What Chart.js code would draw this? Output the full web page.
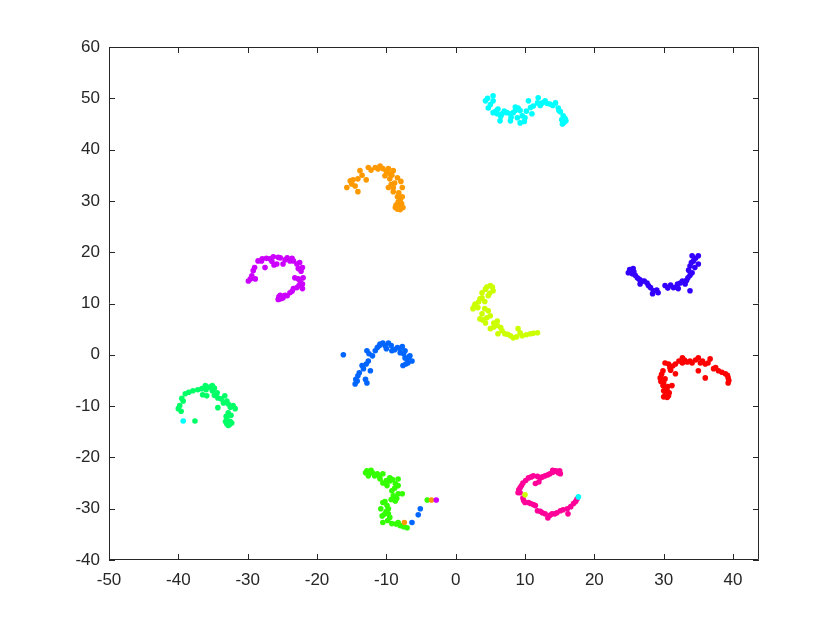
<!DOCTYPE html>
<html>
<head>
<meta charset="utf-8">
<script src="https://cdn.jsdelivr.net/npm/chart.js@4.4.1/dist/chart.umd.min.js"></script>
<style>
  html, body { margin: 0; padding: 0; background: #fff; }
  canvas { display: block; }
</style>
</head>
<body>
<canvas id="scatterChart" width="840" height="630"></canvas>
<script>
// axis ticks
const xTicks = [-50, -40, -30, -20, -10, 0, 10, 20, 30, 40];
const yTicks = [-40, -30, -20, -10, 0, 10, 20, 30, 40, 50, 60];

// cluster points [x, y]
const redPts = [
  [30.2,-1.6],[29.9,-3.1],[29.5,-4.5],[30.2,-4.7],[29.9,-6.0],[30.5,-7.0],[30.7,-8.0],[30.2,-8.0],
  [31.2,-6.0],[31.7,-3.7],[30.9,-2.5],[31.7,-1.8],[32.7,-0.6],[32.7,-1.6],[33.4,-1.4],[34.1,-1.6],
  [35.0,-0.6],[35.3,-1.6],[36.0,-1.8],[36.7,-0.8],[35.0,-3.1],[36.0,-4.5],[37.2,-2.7],[37.9,-3.1],
  [38.9,-3.7],[39.3,-4.5],[39.3,-5.5],[30.7,-1.8],[30.3,-7.3],[30.6,-7.8],[30.0,-7.0],[30.4,-6.5],
  [29.7,-3.8],[29.6,-5.2],[30.0,-5.5],[30.6,-6.2],[30.8,-7.4],[31.0,-3.0],[31.3,-2.2],[32.2,-1.2],
  [33.0,-1.0],[33.8,-1.2],[34.6,-1.0],[35.6,-1.2],[36.4,-1.6],[37.5,-2.5],[38.4,-3.4],[39.2,-4.0],
  [39.4,-5.0],[30.5,-8.3],[30.0,-8.2]
];
const orangePts = [
  [-15.7,32.6],[-15.2,33.9],[-14.8,34.1],[-14.1,34.3],[-13.8,35.9],[-14.5,32.9],[-14.1,31.8],[-12.9,34.1],
  [-12.6,36.5],[-11.6,36.5],[-10.9,36.8],[-10.5,36.3],[-9.7,36.3],[-9.0,35.9],[-9.5,35.3],[-9.5,34.3],
  [-8.4,34.5],[-9.7,32.6],[-9.0,32.6],[-9.0,31.8],[-7.7,32.6],[-8.4,30.8],[-7.7,30.8],[-8.3,29.8],
  [-8.3,28.8],[-8.0,28.3],[-8.7,28.7],[-7.6,28.7],[-8.6,29.2],[-7.9,29.0],[-10.2,34.9],
  [-15.0,33.3],[-13.5,35.0],[-12.2,36.0],[-11.2,36.2],[-10.0,35.8],[-9.2,35.0],[-8.8,33.5],[-9.3,33.2],
  [-8.2,31.6],[-8.0,30.2],[-7.8,29.5],[-8.4,28.4],[-8.0,28.9],[-7.9,33.8]
];
const limePts = [
  [5.0,13.5],[5.4,12.5],[4.7,11.5],[3.8,12.1],[3.5,10.9],[2.8,9.9],[2.5,9.0],[3.2,9.2],
  [3.8,8.0],[3.5,7.0],[4.7,8.6],[5.0,7.6],[4.3,6.2],[6.0,6.6],[6.0,5.7],[5.0,5.1],
  [6.7,4.7],[6.1,4.1],[7.1,4.1],[7.9,3.7],[8.3,3.3],[9.0,5.1],[9.6,3.7],[10.8,4.1],
  [11.8,4.3],[3.8,11.1],[4.5,13.2],[4.2,10.4],
  [4.3,12.8],[3.3,10.3],[2.7,9.5],[4.2,9.0],[4.5,7.2],[3.9,6.8],[5.5,6.2],[5.5,5.4],
  [6.5,5.3],[7.5,4.0],[8.8,3.5],[9.3,4.3],[10.2,3.9],[11.2,4.2],[5.3,13.2],[4.9,12.0]
];
const leafPts = [
  [-12.8,-22.6],[-12.6,-23.6],[-12.0,-23.0],[-11.3,-23.2],[-10.9,-24.2],[-10.5,-23.2],[-10.5,-25.0],[-9.9,-25.5],
  [-9.5,-24.0],[-9.5,-24.6],[-8.3,-24.2],[-8.7,-25.1],[-8.3,-25.5],[-9.2,-26.5],[-9.0,-27.5],[-8.3,-27.1],
  [-7.7,-27.1],[-8.7,-28.5],[-10.5,-28.8],[-9.9,-29.4],[-9.7,-30.0],[-10.2,-31.0],[-10.6,-31.4],[-9.7,-31.0],
  [-10.5,-32.7],[-9.2,-32.9],[-8.3,-32.7],[-8.0,-33.3],[-7.0,-33.7],[-4.1,-28.3],[-13.0,-23.0],[-12.2,-22.5],
  [-12.4,-22.9],[-11.7,-23.6],[-11.0,-23.8],[-10.0,-24.5],[-9.1,-24.3],[-8.8,-26.0],[-8.5,-28.0],[-9.3,-28.2],
  [-10.2,-28.6],[-10.0,-30.5],[-9.8,-32.3],[-9.5,-31.7],[-8.6,-33.0],[-7.5,-33.5],[-10.8,-30.0]
];
const greenPts = [
  [-40.0,-10.5],[-39.8,-9.9],[-39.3,-9.0],[-39.0,-7.6],[-37.9,-7.0],[-36.6,-6.6],[-36.1,-6.0],[-35.1,-6.0],
  [-35.9,-8.0],[-35.1,-7.0],[-34.4,-7.4],[-34.3,-8.4],[-33.3,-8.0],[-33.5,-9.4],[-34.3,-10.3],[-32.8,-9.6],
  [-32.1,-9.9],[-31.8,-10.5],[-32.8,-11.3],[-33.0,-12.5],[-32.8,-13.8],[-32.3,-13.3],[-33.0,-13.5],[-37.6,-12.9],
  [-32.5,-13.0],[-35.5,-6.3],
  [-39.6,-11.0],[-39.5,-8.5],[-38.5,-7.3],[-37.2,-6.8],[-36.0,-6.8],[-34.8,-6.5],[-34.8,-7.9],[-33.8,-8.6],
  [-33.0,-9.0],[-32.5,-10.2],[-32.4,-11.8],[-33.1,-12.0],[-32.6,-13.6],[-33.2,-13.0],[-36.5,-7.8]
];
const cyanPts = [
  [4.3,49.5],[5.4,50.5],[5.4,49.5],[4.7,48.1],[5.4,47.2],[6.0,47.0],[6.7,47.0],[7.4,47.2],
  [7.9,47.0],[8.3,47.2],[9.0,48.1],[9.3,47.6],[9.6,46.6],[8.9,46.2],[7.9,45.6],[6.4,45.6],
  [9.3,45.2],[10.0,46.2],[10.5,49.5],[11.0,47.0],[11.2,48.5],[11.8,49.1],[11.9,50.1],[12.5,49.1],
  [12.9,49.5],[13.6,48.9],[14.4,49.1],[14.8,48.1],[15.5,46.6],[15.5,45.6],[15.4,45.0],[15.8,46.0],
  [15.1,47.4],[6.1,47.9],[8.6,48.3],[15.6,46.3],[15.3,45.8],
  [4.6,50.0],[5.0,48.8],[6.5,46.5],[7.0,47.5],[8.0,46.3],[8.6,47.6],[10.2,47.5],[10.8,48.2],
  [12.2,48.6],[13.2,49.0],[14.0,48.6],[14.9,47.6],[15.6,45.3],[15.9,45.6],[5.8,47.5],[9.9,45.5]
];
const bluePts = [
  [-16.2,0.0],[-12.8,0.8],[-12.6,-1.2],[-12.0,-0.2],[-13.5,-2.1],[-13.3,-2.7],[-12.3,-3.1],[-14.1,-4.1],
  [-14.2,-5.1],[-14.5,-5.7],[-12.8,-5.5],[-11.3,1.4],[-10.9,2.1],[-10.5,2.3],[-9.7,2.3],[-10.0,1.2],
  [-9.2,0.8],[-8.4,1.4],[-7.7,1.6],[-8.0,0.4],[-7.3,0.8],[-7.3,-0.6],[-6.9,-1.6],[-7.6,-2.1],
  [-6.6,-0.2],[-6.3,-1.2],
  [-12.5,0.2],[-12.9,-1.8],[-13.9,-3.5],[-13.0,-4.8],[-11.6,0.8],[-11.0,1.8],[-10.2,1.8],[-9.3,1.8],
  [-8.8,1.0],[-8.0,1.2],[-7.5,0.2],[-7.0,-0.8],[-6.7,-0.4],[-7.2,-1.8],[-14.4,-4.8]
];
const indigoPts = [
  [25.2,16.4],[25.6,16.8],[25.5,15.8],[26.2,15.0],[26.9,14.4],[26.6,13.8],[27.6,14.0],[28.1,13.1],
  [28.5,12.5],[28.4,11.9],[29.2,12.1],[30.2,13.5],[31.4,13.1],[32.0,13.8],[32.7,14.4],[33.1,13.8],
  [33.5,15.0],[34.1,16.0],[33.8,17.3],[34.3,18.3],[34.1,19.3],[35.0,19.3],[35.0,17.7],[33.8,12.5],
  [32.1,12.9],[24.9,16.0],[25.1,16.6],[25.7,16.2],
  [25.4,16.0],[25.9,15.5],[26.5,14.7],[27.2,14.4],[27.8,13.5],[29.0,12.6],[30.6,13.0],[31.0,13.6],
  [31.8,13.2],[32.4,14.0],[33.3,14.5],[33.8,15.5],[34.5,17.0],[34.6,18.8],[34.0,18.0],[33.6,16.5]
];
const purplePts = [
  [-29.9,14.4],[-29.4,15.4],[-29.2,16.4],[-28.9,14.8],[-28.5,18.3],[-27.9,18.7],[-27.5,17.0],[-26.8,18.7],
  [-26.3,19.1],[-25.8,17.7],[-25.3,18.9],[-24.9,17.7],[-24.3,18.9],[-23.9,18.3],[-23.4,18.3],[-22.9,17.7],
  [-22.7,16.8],[-22.1,17.0],[-22.0,15.0],[-22.7,14.8],[-23.2,15.0],[-22.1,13.8],[-22.1,12.9],[-22.9,13.1],
  [-23.4,12.9],[-23.9,12.1],[-24.3,11.5],[-25.0,11.1],[-25.3,10.9],[-24.9,11.1],[-25.5,11.3],[-24.6,11.6],
  [-29.6,14.8],[-29.0,17.0],[-28.0,18.3],[-27.3,18.8],[-26.5,18.2],[-25.6,19.0],[-24.6,18.5],[-23.6,18.8],
  [-22.5,18.0],[-22.3,16.3],[-22.4,14.2],[-22.6,13.5],[-23.6,12.4],[-24.7,11.5],[-25.3,11.6],[-25.6,10.8],
  [-26.2,17.5]
];
const pinkPts = [
  [9.0,-26.9],[9.3,-25.9],[9.7,-25.0],[10.5,-24.0],[11.2,-23.6],[11.5,-25.1],[12.2,-24.0],[12.9,-23.6],
  [13.6,-23.2],[14.4,-22.6],[14.8,-23.0],[15.1,-23.2],[9.7,-27.9],[10.0,-28.8],[10.8,-29.0],[11.5,-29.4],
  [11.8,-30.4],[12.5,-30.8],[12.9,-31.0],[13.3,-31.8],[13.9,-31.0],[14.6,-30.8],[15.1,-30.4],[16.1,-30.0],
  [16.2,-31.0],[17.0,-29.0],[17.5,-28.1],[9.3,-26.9],[14.0,-22.9],
  [9.1,-26.3],[9.5,-25.5],[10.1,-24.5],[10.9,-23.8],[11.8,-23.7],[12.5,-23.8],[13.3,-23.4],[14.0,-22.5],
  [14.6,-22.7],[15.0,-22.6],[9.8,-28.4],[10.5,-28.8],[11.2,-29.2],[12.2,-30.5],[13.6,-31.3],[14.3,-31.0],
  [15.5,-30.2],[16.6,-29.6],[17.3,-28.6],[12.0,-24.8]
];

// stray points that sit inside other clusters
const strayPts = [[-39.3,-12.9],[17.7,-27.7],[-7.4,-32.7],[-3.5,-28.3],[-6.3,-32.7],[-5.4,-31.2],[-5.1,-30.0],[-2.8,-28.3],[10.0,-27.3]];
const strayColors = ['#00FFFF','#00FFFF','#FF9900','#FF9900','#0066FF','#0066FF','#0066FF','#CC00FF','#CCFF00'];

const groups = [
  { pts: redPts, color: '#FF0000' },
  { pts: orangePts, color: '#FF9900' },
  { pts: limePts, color: '#CCFF00' },
  { pts: leafPts, color: '#33FF00' },
  { pts: greenPts, color: '#00FF66' },
  { pts: cyanPts, color: '#00FFFF' },
  { pts: bluePts, color: '#0066FF' },
  { pts: indigoPts, color: '#3300FF' },
  { pts: purplePts, color: '#CC00FF' },
  { pts: pinkPts, color: '#FF0099' }
];

const toXY = (arr) => arr.map((p) => ({ x: p[0], y: p[1] }));

const datasets = [{
  data: toXY(strayPts),
  backgroundColor: strayColors,
  pointRadius: 2.8,
  pointBorderWidth: 0
}];
groups.forEach((g) => {
  datasets.push({
    data: toXY(g.pts),
    backgroundColor: g.color,
    pointRadius: 2.8,
    pointBorderWidth: 0
  });
});

const AXIS = '#262626';

// box around the axes with inward tick marks on all four sides
const boxPlugin = {
  id: 'box',
  afterDraw(chart) {
    const { ctx, chartArea: { left, right, top, bottom }, scales: { x, y } } = chart;
    ctx.save();
    ctx.strokeStyle = AXIS;
    ctx.lineWidth = 1;
    ctx.beginPath();
    ctx.rect(left + 0.5, top + 0.5, right - left - 1, bottom - top - 1);
    xTicks.forEach((v) => {
      const px = Math.round(x.getPixelForValue(v)) + 0.5;
      ctx.moveTo(px, bottom); ctx.lineTo(px, bottom - 6);
      ctx.moveTo(px, top); ctx.lineTo(px, top + 6);
    });
    yTicks.forEach((v) => {
      const py = Math.round(y.getPixelForValue(v)) + 0.5;
      ctx.moveTo(left, py); ctx.lineTo(left + 6, py);
      ctx.moveTo(right, py); ctx.lineTo(right - 6, py);
    });
    ctx.stroke();
    ctx.restore();
  }
};

const canvas = document.getElementById('scatterChart');
const ctx = canvas.getContext('2d');

new Chart(ctx, {
  type: 'scatter',
  data: { datasets: datasets },
  plugins: [boxPlugin],
  options: {
    responsive: false,
    animation: false,
    layout: { padding: { top: 47, right: 81, left: 0, bottom: 0 } },
    plugins: {
      legend: { display: false },
      tooltip: { enabled: false }
    },
    scales: {
      x: {
        type: 'linear',
        min: -50,
        max: 43.75,
        afterBuildTicks: (axis) => { axis.ticks = xTicks.map((v) => ({ value: v })); },
        afterFit: (axis) => { axis.height = 70; },
        grid: { display: false, drawTicks: false },
        border: { display: false },
        ticks: {
          padding: 10,
          maxRotation: 0,
          color: AXIS,
          font: { family: 'Liberation Sans, Arial, sans-serif', size: 17 }
        }
      },
      y: {
        type: 'linear',
        min: -40,
        max: 60,
        afterBuildTicks: (axis) => { axis.ticks = yTicks.map((v) => ({ value: v })); },
        afterFit: (axis) => { axis.width = 109; },
        grid: { display: false, drawTicks: false },
        border: { display: false },
        ticks: {
          padding: 9,
          color: AXIS,
          font: { family: 'Liberation Sans, Arial, sans-serif', size: 17 }
        }
      }
    }
  }
});
</script>
</body>
</html>
